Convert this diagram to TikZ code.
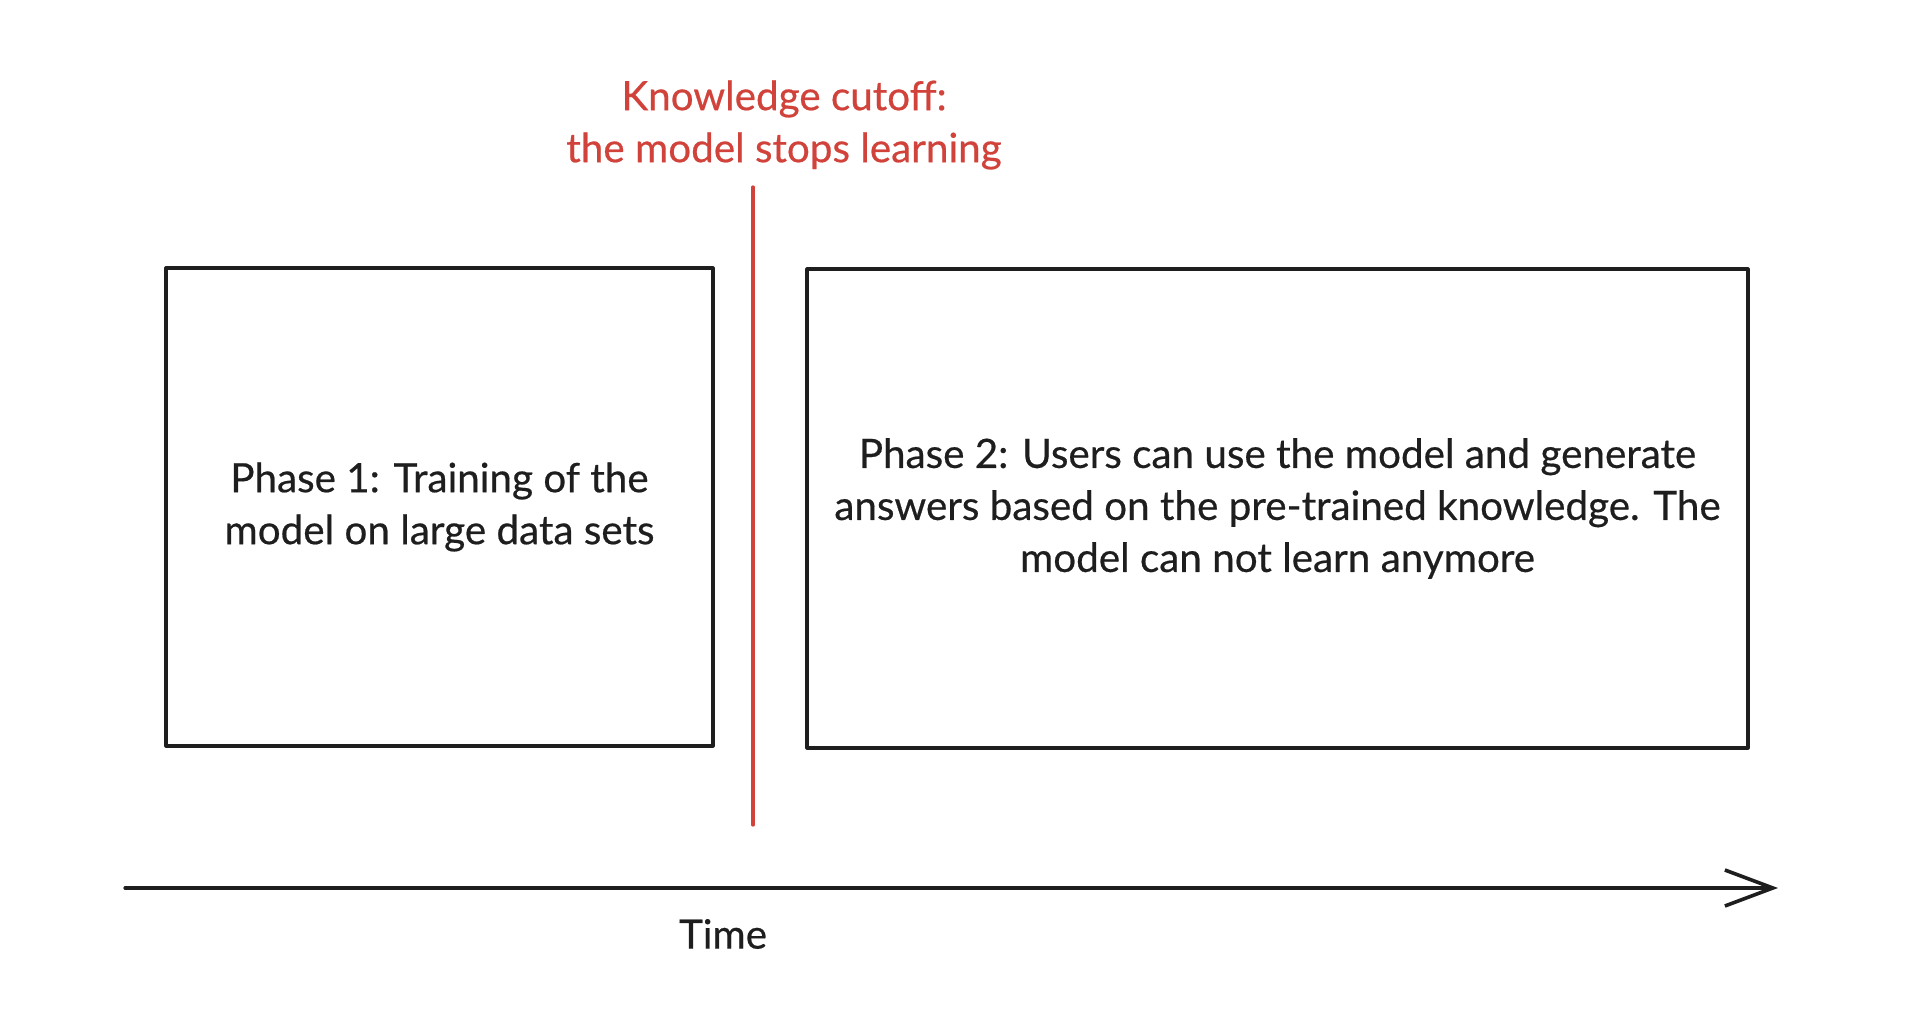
\documentclass[tikz,border=0pt]{standalone}
\usepackage{fontspec}
\setmainfont{Lato}[FakeBold=0.5]
\usetikzlibrary{arrows.meta}

\definecolor{cutred}{RGB}{208,66,58}
\definecolor{inkblack}{RGB}{30,30,30}

\begin{document}
\begin{tikzpicture}[
  x=0.5pt,y=-0.5pt,
  font=\fontsize{20.2}{26}\selectfont,
  phase/.style={draw=inkblack,line width=1.6pt,align=center,text=inkblack,inner sep=0pt},
  every path/.style={line cap=round,line join=round}
]
  \useasboundingbox (0,0) rectangle (1926,1032);

  \node[text=cutred,align=center] (cutoff-label) at (784,125)
    {Knowledge cutoff:\\the model stops learning};
  \coordinate (cut-top) at (753,187);
  \coordinate (cut-bottom) at (753,825);
  \draw[cutred,line width=1.6pt] (cut-top) -- (cut-bottom);

  \node[phase,minimum width=273.5pt,minimum height=239pt] (phase-one) at (439.5,507)
    {Phase 1: Training of the\\model on large data sets};
  \node[phase,minimum width=470.5pt,minimum height=239.5pt] (phase-two) at (1277.5,508.5)
    {Phase 2: Users can use the model and generate\\
     answers based on the pre-trained knowledge. The\\
     model can not learn anymore};

  \coordinate (axis-start) at (125,888);
  \coordinate (axis-end) at (1778,888);
  \draw[-{Straight Barb[length=24pt,width=18pt,line width=1.8pt]},inkblack,line width=1.6pt]
    (axis-start) -- (axis-end);
  \node[text=inkblack] (time-label) at (723,934) {Time};
\end{tikzpicture}
\end{document}
